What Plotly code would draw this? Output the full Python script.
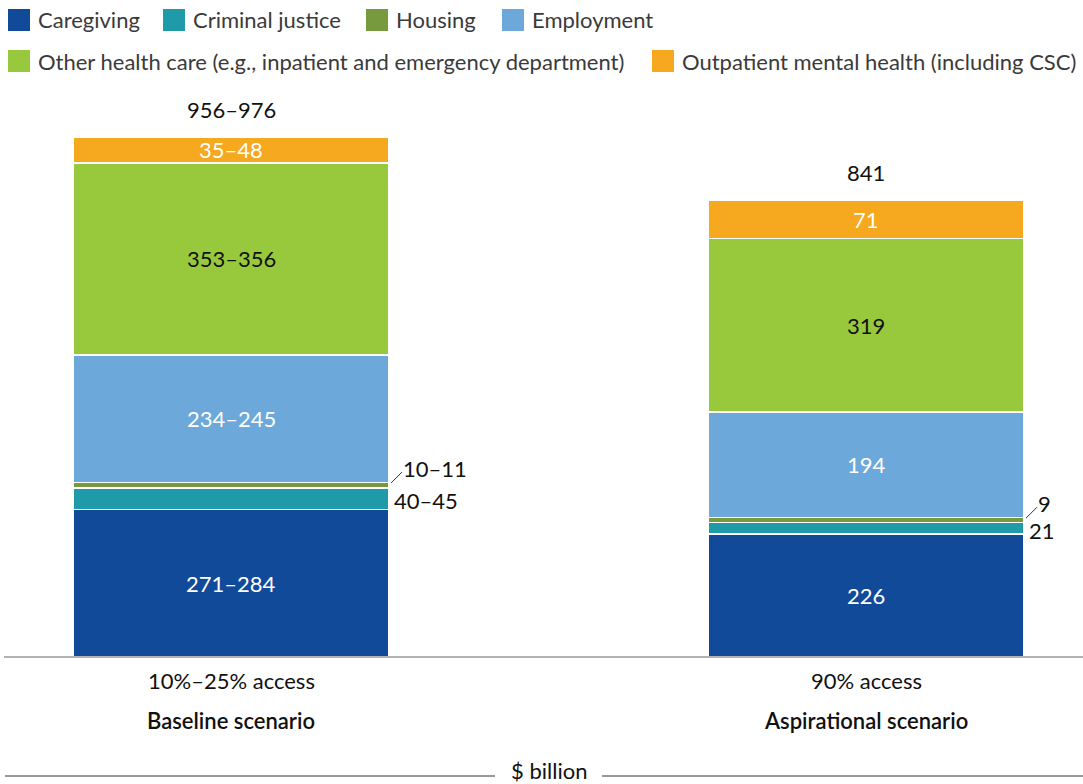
import plotly.graph_objects as go

# Scenario categories and their sub-labels
scenarios = ["Baseline scenario", "Aspirational scenario"]
access_levels = ["10%–25% access", "90% access"]

# Cost components ($ billion); bar heights
caregiving = [271, 226]
criminal_justice = [40, 21]
housing = [10, 9]
employment = [234, 194]
other_health = [353, 319]
outpatient_mh = [48, 71]

# Value labels shown on each segment
caregiving_lbl = ["271–284", "226"]
criminal_justice_lbl = ["40–45", "21"]
housing_lbl = ["10–11", "9"]
employment_lbl = ["234–245", "194"]
other_health_lbl = ["353–356", "319"]
outpatient_mh_lbl = ["35–48", "71"]
total_lbl = ["956–976", "841"]

series_names = [
    "Caregiving",
    "Criminal justice",
    "Housing",
    "Employment",
    "Other health care (e.g., inpatient and emergency department)",
    "Outpatient mental health (including CSC)",
]
series_colors = ["#124A9A", "#1E9AA8", "#789A3E", "#6CA8DA", "#98C93C", "#F6A81F"]
series_values = [caregiving, criminal_justice, housing, employment, other_health, outpatient_mh]
series_labels = [caregiving_lbl, criminal_justice_lbl, housing_lbl, employment_lbl,
                 other_health_lbl, outpatient_mh_lbl]
# label placement: inside segment, or outside to the right of the bar
label_inside = [True, False, False, True, True, True]
label_color = ["white", None, None, "white", "#111111", "white"]

FONT = "Lato, 'Open Sans', sans-serif"
FS = 22
W, H = 1083, 784
ML, MR, MT, MB = 4, 0, 90, 127
BAR_W = 0.4976
X_RANGE = [-0.3575, 1.3417]
Y_RANGE = [0, 1042]

x_pos = list(range(len(scenarios)))

fig = go.Figure()
for name, color, vals in zip(series_names, series_colors, series_values):
    fig.add_trace(go.Bar(
        x=x_pos, y=vals, name=name, width=BAR_W,
        marker=dict(color=color, line=dict(color="white", width=1.5)),
        showlegend=False, hoverinfo="name+y",
    ))

annotations = []
shapes = []

# segment labels
for i in x_pos:
    base = 0
    for s, vals in enumerate(series_values):
        v = vals[i]
        txt = series_labels[s][i]
        if label_inside[s]:
            annotations.append(dict(
                x=i, y=base + v / 2, xref="x", yref="y", text=txt, showarrow=False,
                font=dict(family=FONT, size=FS, color=label_color[s]),
            ))
        elif s == 1:  # criminal justice: beside the segment
            annotations.append(dict(
                x=i + BAR_W / 2, y=base + v / 2, xref="x", yref="y", text=txt,
                showarrow=False, xanchor="left", xshift=3, yshift=-2,
                font=dict(family=FONT, size=FS, color="#111111"),
            ))
        else:  # housing: raised label with a leader line
            annotations.append(dict(
                x=i + BAR_W / 2, y=base + v / 2, xref="x", yref="y", text=txt,
                showarrow=False, xanchor="left", xshift=12, yshift=17,
                font=dict(family=FONT, size=FS, color="#111111"),
            ))
            shapes.append(dict(
                type="line", xref="x", yref="y",
                xsizemode="pixel", ysizemode="pixel",
                xanchor=i + BAR_W / 2, yanchor=base + v / 2,
                x0=2, x1=13, y0=2, y1=13,
                line=dict(color="#333333", width=1),
            ))
        base += v
    # total above bar
    annotations.append(dict(
        x=i, y=base, xref="x", yref="y", text=total_lbl[i], showarrow=False,
        yanchor="bottom", yshift=12,
        font=dict(family=FONT, size=FS, color="#111111"),
    ))
    # category labels under the axis
    annotations.append(dict(
        x=i, y=0, xref="x", yref="y", text=access_levels[i], showarrow=False,
        yanchor="middle", yshift=-23,
        font=dict(family=FONT, size=FS, color="#111111"),
    ))
    annotations.append(dict(
        x=i, y=0, xref="x", yref="y", text=scenarios[i], showarrow=False,
        yanchor="middle", yshift=-63,
        font=dict(family=FONT, size=FS, color="#111111", weight=600),
    ))

plot_h = H - MT - MB
plot_w = W - ML - MR


def py(pix):
    return (H - MB - pix) / plot_h


def px(pix):
    return (pix - ML) / plot_w


# unit caption with rules on both sides
annotations.append(dict(
    x=px(549), y=py(771), xref="paper", yref="paper", text="$ billion", showarrow=False,
    xanchor="center", yanchor="middle",
    font=dict(family=FONT, size=FS, color="#111111"),
))
for a, b in [(5, 495), (602, 1083)]:
    shapes.append(dict(type="line", xref="paper", yref="paper",
                       x0=px(a), x1=px(b), y0=py(776), y1=py(776),
                       line=dict(color="#333333", width=1)))

# baseline axis rule
shapes.append(dict(type="line", xref="paper", yref="paper",
                   x0=0, x1=1, y0=0, y1=0, line=dict(color="#9a9a9a", width=1.5)))

# legend, two rows
legend_pos = [(8, 20), (163, 20), (366, 20), (502, 20), (8, 61), (652, 61)]
for (lx, ly), name, color in zip(legend_pos, series_names, series_colors):
    shapes.append(dict(type="rect", xref="paper", yref="paper",
                       x0=px(lx), x1=px(lx + 22), y0=py(ly - 11), y1=py(ly + 11),
                       fillcolor=color, line=dict(width=0)))
    annotations.append(dict(
        x=px(lx + 28), y=py(ly), xref="paper", yref="paper", text=name,
        showarrow=False, xanchor="left", yanchor="middle",
        font=dict(family=FONT, size=FS, color="#3a3a3a"),
    ))

fig.update_layout(
    width=W, height=H,
    margin=dict(l=ML, r=MR, t=MT, b=MB),
    barmode="stack",
    plot_bgcolor="white", paper_bgcolor="white",
    xaxis=dict(range=X_RANGE, showticklabels=False, showgrid=False, zeroline=False,
               showline=False, ticks=""),
    yaxis=dict(range=Y_RANGE, showticklabels=False, showgrid=False, zeroline=False,
               showline=False, ticks=""),
    annotations=annotations,
    shapes=shapes,
    font=dict(family=FONT),
)

fig.write_html("out.html")
